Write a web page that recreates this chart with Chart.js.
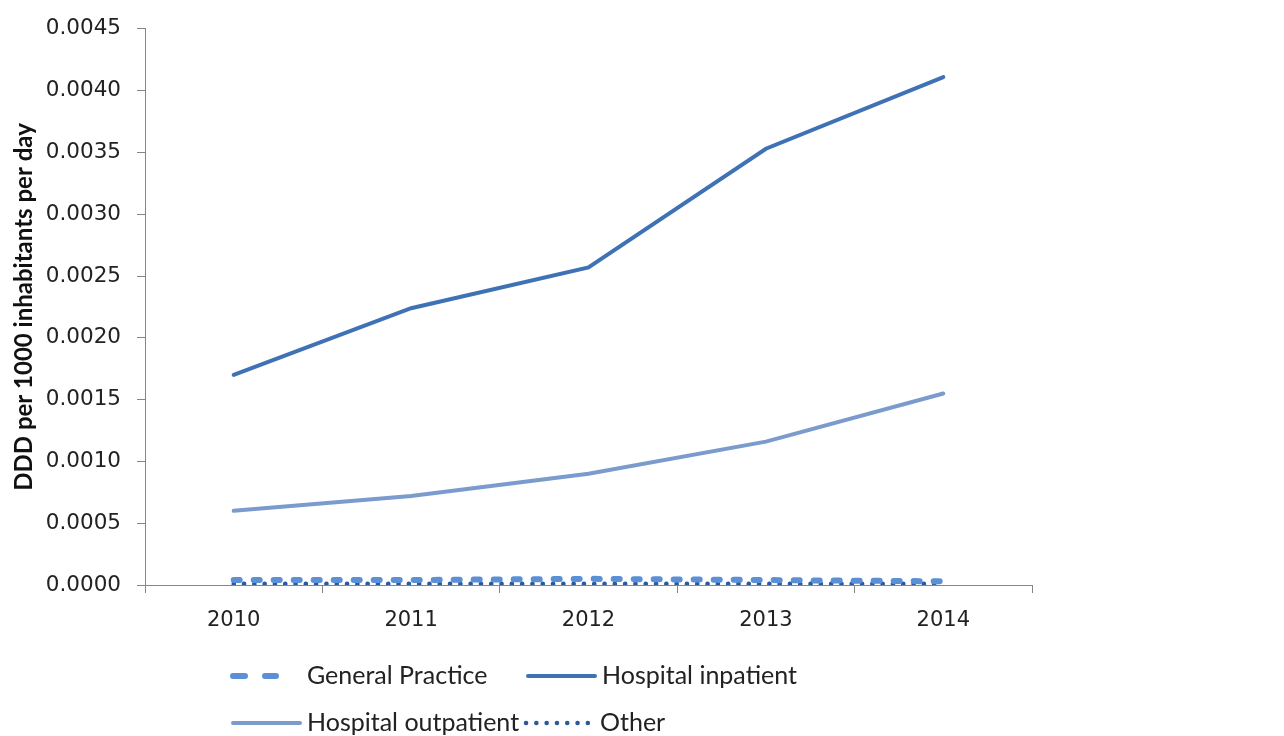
<!DOCTYPE html>
<html>
<head>
<meta charset="utf-8">
<script src="https://cdn.jsdelivr.net/npm/chart.js@4/dist/chart.umd.min.js"></script>
<style>
  html, body { margin: 0; padding: 0; background: #fff; }
  #wrap { width: 1284px; height: 736px; position: relative; }
</style>
</head>
<body>
<div id="wrap"><canvas id="dddChart"></canvas></div>
<script>
// Years on the x axis
const years = ['2010', '2011', '2012', '2013', '2014'];

// DDD per 1000 inhabitants per day, by setting
const generalPractice = [0.00004, 0.00004, 0.00005, 0.00004, 0.00003];
const hospitalInpatient = [0.00170, 0.00224, 0.00257, 0.00353, 0.00411];
const hospitalOutpatient = [0.00060, 0.00072, 0.00090, 0.00116, 0.00155];
const other = [0.00001, 0.00001, 0.00001, 0.00001, 0.00001];

// y axis range
const yMin = 0;
const yMax = 0.0045;
const yStep = 0.0005;

const axisGrey = '#868686';

// Legend drawn under the plot, two items per row
const bottomLegend = {
  id: 'bottomLegend',
  afterDraw(chart) {
    const ctx = chart.ctx;
    const ds = chart.data.datasets;
    const rows = [
      [{ i: 0, x: 230 }, { i: 1, x: 525 }],
      [{ i: 2, x: 230 }, { i: 3, x: 523 }]
    ];
    const rowY = [676, 723];
    ctx.save();
    ctx.font = '25px Lato';
    ctx.fillStyle = '#222';
    ctx.textBaseline = 'middle';
    rows.forEach((row, r) => {
      row.forEach(item => {
        const d = ds[item.i];
        const y = rowY[r];
        const len = d.legendLen || 70;
        ctx.beginPath();
        ctx.strokeStyle = d.borderColor;
        ctx.lineWidth = d.borderWidth;
        ctx.lineCap = d.borderCapStyle || 'butt';
        ctx.setLineDash(d.legendDash || d.borderDash || []);
        ctx.moveTo(item.x + 3, y);
        ctx.lineTo(item.x + len, y);
        ctx.stroke();
        ctx.setLineDash([]);
        ctx.fillText(d.label, item.x + 77, y);
      });
    });
    ctx.restore();
  }
};

const ctx = document.getElementById('dddChart').getContext('2d');
new Chart(ctx, {
  type: 'line',
  data: {
    labels: years,
    datasets: [
      {
        label: 'General Practice',
        data: generalPractice,
        borderColor: '#5b8fd6',
        borderWidth: 6,
        borderDash: [6, 14],
        legendDash: [12, 20],
        legendLen: 46,
        borderCapStyle: 'round',
        pointRadius: 0
      },
      {
        label: 'Hospital inpatient',
        data: hospitalInpatient,
        borderColor: '#3f72b4',
        borderWidth: 4,
        borderCapStyle: 'round',
        pointRadius: 0
      },
      {
        label: 'Hospital outpatient',
        data: hospitalOutpatient,
        borderColor: '#7b9bcd',
        borderWidth: 4,
        borderCapStyle: 'round',
        pointRadius: 0
      },
      {
        label: 'Other',
        data: other,
        borderColor: '#2a5a9a',
        borderWidth: 4.5,
        borderDash: [0.1, 10.2],
        legendLen: 68,
        borderCapStyle: 'round',
        pointRadius: 0
      }
    ]
  },
  options: {
    responsive: true,
    maintainAspectRatio: false,
    animation: false,
    layout: { padding: { left: 10, right: 252, top: 25, bottom: 96 } },
    plugins: {
      legend: { display: false },
      tooltip: { enabled: false }
    },
    scales: {
      x: {
        offset: true,
        grid: {
          offset: true,
          drawOnChartArea: false,
          drawTicks: true,
          tickLength: 8,
          color: axisGrey
        },
        border: { color: axisGrey, width: 1 },
        ticks: {
          color: '#222',
          font: { family: 'DejaVu Sans', size: 21 },
          padding: 15
        },
        afterFit: s => { s.height = 55; }
      },
      y: {
        min: yMin,
        max: yMax,
        grid: {
          drawOnChartArea: false,
          drawTicks: true,
          tickLength: 8,
          color: axisGrey
        },
        border: { color: axisGrey, width: 1 },
        ticks: {
          stepSize: yStep,
          color: '#222',
          font: { family: 'DejaVu Sans', size: 21.5 },
          padding: 16,
          callback: v => v.toFixed(4)
        },
        title: {
          display: true,
          text: 'DDD per 1000 inhabitants per day',
          color: '#111',
          font: { family: 'Lato', size: 24, weight: 'bold' },
          padding: { top: 0, bottom: 0 }
        },
        afterFit: s => { s.width = 135; }
      }
    }
  },
  plugins: [bottomLegend]
});
</script>
</body>
</html>
